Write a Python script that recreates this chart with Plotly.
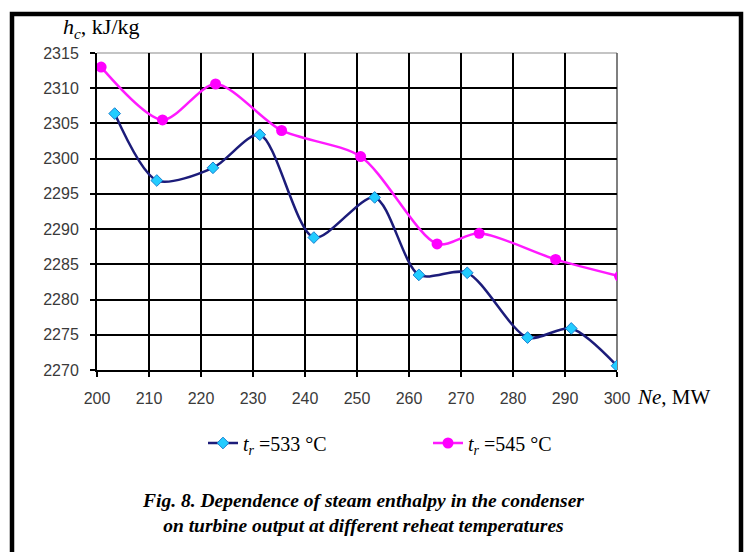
import plotly.graph_objects as go

# Data
x533 = [203.4, 211.5, 222.3, 231.3, 241.7, 253.4, 261.9, 271.2, 282.8, 291.2, 300.0]
y533 = [2306.4, 2296.9, 2298.7, 2303.4, 2288.8, 2294.5, 2283.5, 2283.8, 2274.6, 2275.9, 2270.6]
x545 = [200.8, 212.6, 222.8, 235.5, 250.7, 265.4, 273.5, 288.2, 300.5]
y545 = [2313.0, 2305.5, 2310.6, 2304.0, 2300.3, 2287.9, 2289.4, 2285.7, 2283.3]
x_ticks = [200, 210, 220, 230, 240, 250, 260, 270, 280, 290, 300]
y_ticks = [2270, 2275, 2280, 2285, 2290, 2295, 2300, 2305, 2310, 2315]
name533 = "<i>t</i><sub><i>r</i></sub> =533 °C"
name545 = "<i>t</i><sub><i>r</i></sub> =545 °C"
caption = ("<b><i>Fig. 8. Dependence of steam enthalpy in the condenser</i></b><br>"
           "<b><i>on turbine output at different reheat temperatures</i></b>")

W, H = 745, 552
L, R, T, B = 97, 617, 53, 370  # plot area in px

def px(xp):
    return (xp - L) / (R - L)

def py(yp):
    return (B - yp) / (B - T)

fig = go.Figure()
fig.add_trace(go.Scatter(
    x=x533, y=y533, name=name533, mode="lines+markers",
    line=dict(color="#1c1c7a", width=2.5, shape="spline", smoothing=0.8),
    marker=dict(symbol="diamond", size=9, color="#22ccff",
                line=dict(color="#1a7fd0", width=1)),
))
fig.add_trace(go.Scatter(
    x=x545, y=y545, name=name545, mode="lines+markers",
    line=dict(color="#ff1aff", width=2.5, shape="spline", smoothing=0.8),
    marker=dict(symbol="circle", size=11, color="#ff00ff"),
))

axis_font = dict(family="Liberation Sans, Arial, sans-serif", size=16, color="#3a3a3a")
fig.update_xaxes(
    range=[200, 300], tickvals=x_ticks, ticks="outside", ticklen=5, tickwidth=2,
    tickcolor="black", showgrid=True, gridcolor="black", gridwidth=1.5,
    showline=True, linecolor="black", linewidth=2, zeroline=False,
    tickfont=axis_font, automargin=False, ticklabelstandoff=8,
)
fig.update_yaxes(
    range=[2270, 2315], tickvals=y_ticks, ticks="outside", ticklen=5, tickwidth=2,
    tickcolor="black", showgrid=True, gridcolor="black", gridwidth=1.5,
    showline=True, linecolor="black", linewidth=2, zeroline=False,
    tickfont=axis_font, ticklabelstandoff=8, automargin=False,
)

shapes = [
    # plot-area light border (top/right)
    dict(type="line", xref="paper", yref="paper", x0=0, x1=1, y0=1, y1=1,
         line=dict(color="#b0b0b0", width=1.5), layer="below"),
    dict(type="line", xref="paper", yref="paper", x0=1, x1=1, y0=0, y1=1,
         line=dict(color="#555555", width=1.5), layer="below"),
    # outer black frame
    dict(type="rect", xref="paper", yref="paper",
         x0=px(12), x1=px(741), y0=py(14), y1=py(560),
         line=dict(color="black", width=4.5)),
]

annotations = [
    dict(text="<i>h</i><sub><i>c</i></sub>, kJ/kg", xref="paper", yref="paper",
         x=px(61), y=py(28), xanchor="left", yanchor="middle", showarrow=False,
         font=dict(family="Liberation Serif, Times New Roman, serif", size=22, color="black")),
    dict(text="<i>Ne</i>, MW", xref="paper", yref="paper",
         x=px(635), y=py(397), xanchor="left", yanchor="middle", showarrow=False,
         font=dict(family="Liberation Serif, Times New Roman, serif", size=21, color="black")),
    dict(text=caption, xref="paper", yref="paper",
         x=px(363), y=py(513), xanchor="center", yanchor="middle", showarrow=False,
         align="center",
         font=dict(family="Liberation Serif, Times New Roman, serif", size=19.5, color="black")),
]

fig.update_layout(
    width=W, height=H,
    margin=dict(l=L, r=W - R, t=T, b=H - B, autoexpand=False),
    paper_bgcolor="white", plot_bgcolor="white",
    showlegend=True,
    legend=dict(orientation="h", x=px(203), y=py(443), xanchor="left", yanchor="middle",
                font=dict(family="Liberation Serif, Times New Roman, serif", size=20, color="black"),
                entrywidth=180, itemwidth=30, bgcolor="rgba(0,0,0,0)"),
    shapes=shapes, annotations=annotations,
)

fig.write_html(
    "out.html",
    config={"displayModeBar": False},
    post_script="document.body.style.margin='0';document.body.style.overflow='hidden';",
)
